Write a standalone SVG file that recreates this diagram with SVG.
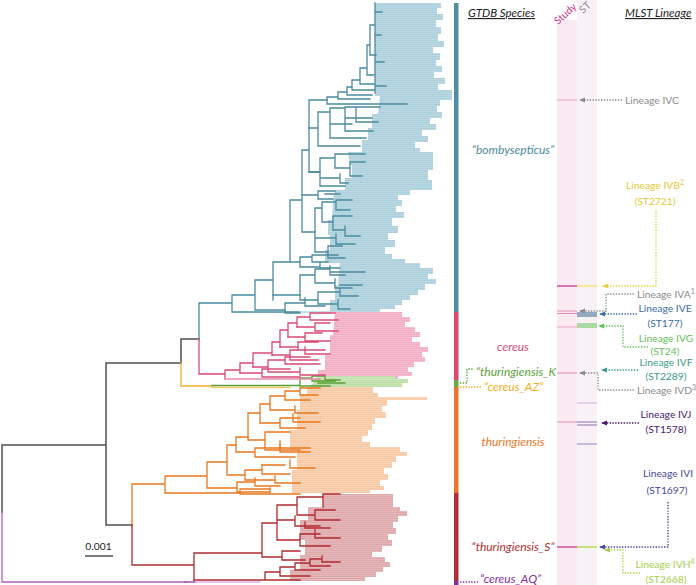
<svg xmlns="http://www.w3.org/2000/svg" xmlns:xlink="http://www.w3.org/1999/xlink" width="696" height="585" viewBox="0 0 696 585">
<style>
.br{fill:none;stroke-width:1.3;stroke-linecap:square}
.bb{stroke:#4a8aa0}.bp{stroke:#d94a75}.bg{stroke:#5a9e3a}.bo{stroke:#e8781e}.brd{stroke:#b02a30}.bk{stroke:#505050;stroke-width:1.5}
.lab{font-family:Lato,"Open Sans","DejaVu Sans",sans-serif;font-size:10.3px}
.sp{font-family:Lato,"Open Sans","DejaVu Sans",sans-serif;font-size:12px;font-style:italic}
.hd{font-family:Lato,"Open Sans","DejaVu Sans",sans-serif;font-size:11.5px;font-style:italic;text-decoration:underline;fill:#222}
.dl{fill:none;stroke-width:1.3;stroke-dasharray:1.4 1.4}
</style>
<defs>
<pattern id="stripe" width="4" height="2" patternUnits="userSpaceOnUse"><rect x="0" y="1.3" width="4" height="0.5" fill="#fff" fill-opacity="0.4"/></pattern>
<path id="fb1" d="M375,3 H441 V8 H437 V14 H443 V20 H436 V27 H441 V34 H438 V41 H444 V47 H433 V53 H440 V60 H436 V66 H442 V72 H434 V78 H445 V84 H438 V90 H452 V96 H375 Z"/>
<path id="fb2" d="M380,96 H452 V100 H440 V106 H437 V112 H442 V118 H430 V124 H436 V130 H422 V136 H428 V142 H415 V148 H420 V152 H362 V140 H368 V128 H372 V114 H378 Z"/>
<path id="fb3" d="M348,152 H433 V170 H428 V180 H432 V190 H345 V178 H352 V165 H350 Z"/>
<path id="fb4" d="M335,190 H410 V195 H398 V200 H333 Z"/>
<path id="fb5" d="M333,200 H402 V206 H396 V212 H404 V218 H392 V226 H398 V233 H388 V240 H395 V247 H385 V254 H392 V259 H405 V263 H325 V250 H330 V235 H328 V220 H332 Z"/>
<path id="fb6" d="M340,263 H420 V268 H433 V274 H428 V279 H436 V284 H425 V290 H418 V295 H410 V300 H402 V305 H395 V309 H380 V312 H330 V300 H335 V285 H338 Z"/>
<path id="fp" d="M335,312 H402 V317 H410 V322 H405 V327 H415 V332 H420 V337 H412 V342 H420 V347 H428 V352 H422 V357 H425 V362 H414 V367 H408 V372 H412 V376 H398 V380 H318 V370 H325 V355 H330 V335 H333 Z"/>
<path id="fg" d="M318,376 H395 V379 H408 V383 H402 V387 H310 Z"/>
<path id="fo" d="M307,387 H373 V393 H378 V397 H427 V400 H387 V406 H382 V412 H386 V418 H375 V424 H372 V430 H368 V436 H362 V442 H370 V447 H400 V452 H407 V456 H396 V462 H392 V468 H384 V474 H388 V480 H380 V486 H384 V490 H370 V493 H292 V470 H297 V450 H290 V430 H297 V410 H300 V395 H307 Z"/>
<path id="fr" d="M323,494 H393 V507 H400 V511 H407 V516 H398 V522 H393 V528 H396 V534 H388 V540 H392 V546 H382 V552 H372 V557 H385 V562 H390 V567 H383 V572 H376 V577 H365 V581 H290 V570 H300 V555 H305 V540 H300 V520 H308 V507 H323 Z"/>
<marker id="ag" viewBox="0 0 6 6" refX="5" refY="3" markerWidth="6" markerHeight="6" markerUnits="userSpaceOnUse" orient="auto"><path d="M0,0.5 L6,3 L0,5.5 Z" fill="#8c8c8c"/></marker>
<marker id="ay" viewBox="0 0 6 6" refX="5" refY="3" markerWidth="6" markerHeight="6" markerUnits="userSpaceOnUse" orient="auto"><path d="M0,0.5 L6,3 L0,5.5 Z" fill="#e8cf3a"/></marker>
<marker id="ab" viewBox="0 0 6 6" refX="5" refY="3" markerWidth="6" markerHeight="6" markerUnits="userSpaceOnUse" orient="auto"><path d="M0,0.5 L6,3 L0,5.5 Z" fill="#3d6ea8"/></marker>
<marker id="agr" viewBox="0 0 6 6" refX="5" refY="3" markerWidth="6" markerHeight="6" markerUnits="userSpaceOnUse" orient="auto"><path d="M0,0.5 L6,3 L0,5.5 Z" fill="#66c05a"/></marker>
<marker id="at" viewBox="0 0 6 6" refX="5" refY="3" markerWidth="6" markerHeight="6" markerUnits="userSpaceOnUse" orient="auto"><path d="M0,0.5 L6,3 L0,5.5 Z" fill="#3a9a8c"/></marker>
<marker id="ap" viewBox="0 0 6 6" refX="5" refY="3" markerWidth="6" markerHeight="6" markerUnits="userSpaceOnUse" orient="auto"><path d="M0,0.5 L6,3 L0,5.5 Z" fill="#4a1a6e"/></marker>
<marker id="as" viewBox="0 0 6 6" refX="5" refY="3" markerWidth="6" markerHeight="6" markerUnits="userSpaceOnUse" orient="auto"><path d="M0,0.5 L6,3 L0,5.5 Z" fill="#4a4a9e"/></marker>
<marker id="ayg" viewBox="0 0 6 6" refX="5" refY="3" markerWidth="6" markerHeight="6" markerUnits="userSpaceOnUse" orient="auto"><path d="M0,0.5 L6,3 L0,5.5 Z" fill="#a6d04a"/></marker>
</defs>
<rect width="696" height="585" fill="#fff"/>

<!-- leaf fans -->
<g id="fans">
<use href="#fb1" fill="#abd0dc"/><use href="#fb2" fill="#abd0dc"/><use href="#fb3" fill="#abd0dc"/><use href="#fb4" fill="#abd0dc"/><use href="#fb5" fill="#abd0dc"/><use href="#fb6" fill="#abd0dc"/>
<use href="#fp" fill="#f3adc3"/><use href="#fg" fill="#bcdda4"/><use href="#fo" fill="#f7c8a4"/><use href="#fr" fill="#dea8ab"/>
<use href="#fb1" fill="url(#stripe)"/><use href="#fb2" fill="url(#stripe)"/><use href="#fb3" fill="url(#stripe)"/><use href="#fb4" fill="url(#stripe)"/><use href="#fb5" fill="url(#stripe)"/><use href="#fb6" fill="url(#stripe)"/>
<use href="#fp" fill="url(#stripe)"/><use href="#fg" fill="url(#stripe)"/><use href="#fo" fill="url(#stripe)"/><use href="#fr" fill="url(#stripe)"/>
</g>

<!-- tree branches -->
<g id="tree">
<path class="br bk" d="M2,445 V512 M2,445 H106 M106,363 V525 M106,363 H181 M106,525 H132 M181,339 V363 M181,339 H199"/>
<path class="br" stroke="#b060c0" stroke-width="1.5" d="M2,512 V582 H185"/>
<path class="br" stroke="#9a2a9a" stroke-width="2.5" d="M185,582 H195"/>
<path class="br" stroke="#dab4e4" stroke-width="2" d="M196,582 H260"/>
<path class="br" stroke="#f0b030" stroke-width="1.5" d="M181,363 V386 H212"/>
<path class="br" stroke="#f3c860" stroke-width="1.5" d="M212,387.5 H290"/>
<path class="br bg" stroke-width="1.6" d="M212,385.5 H300 M300,378 V386 M300,386 H330 M300,378 H312 M312,376 V381 H335 M312,376 H325 M325,376 V380 H340 M318,383 H345"/>

<path class="br bb" d="M199,303 V339 M199,303 H232 M232,295 V312 M232,312 H300 M232,295 H255 M255,280 V310 M255,310 H285 M255,280 H273 M273,262 V295 M273,295 H300 M273,262 H290 M290,200 V262 M290,262 H300 M290,200 H302 M302,150 V232 M302,232 H315 M302,150 H309 M309,100 V172 M309,172 H320 M309,100 H327"/>
<path class="br" stroke="#a9cfdb" d="M300,312 H330"/>
<path class="br bb" d="M327,97 V104 M327,104 H407 M327,97 H338 M338,92 V99 M338,99 H370 M338,92 H347 M347,87 V95 M347,95 H372 M347,87 H352 M352,80 V90 M352,90 H374 M352,80 H360 M360,68 V84 M360,84 H375 M360,68 H367 M367,45 V75 M367,75 H375 M367,45 H370 M370,25 V55 M370,55 H376 M370,25 H375 M375,3 V93 M375,12 H382 M375,35 H381 M375,62 H384 M375,86 H386"/>
<path class="br bb" d="M309,128 H318 M318,112 V146 M318,146 H360 M318,112 H330 M330,108 V138 M330,138 H366 M330,108 H345 M345,107 V131 M345,131 H373 M345,107 H356 M356,107 V122 M356,122 H378 M356,107 H380 M330,124 H352 M345,118 H372"/>
<path class="br bb" d="M309,172 H320 M320,158 V186 M320,186 H345 M320,158 H335 M335,154 V168 M335,154 H365 M335,168 H350 M350,162 V176 M350,162 H365 M350,176 H362 M320,178 H340 M340,174 V183 H348 M302,195 H318 M318,191 V199 M318,191 H335 M318,199 H333 M325,194 H340"/>
<path class="br bb" d="M315,208 V252 M315,252 H328 M328,246 V258 M328,246 H342 M328,258 H345 M315,208 H322 M322,202 V222 M322,202 H336 M336,200 V210 M336,200 H352 M336,210 H350 M322,222 H333 M333,216 V230 M333,216 H352 M333,230 H345 M345,226 V236 H360 M315,238 H336 M336,234 V244 H355"/>
<path class="br bb" d="M300,257 V267 M300,257 H312 M312,255 V262 H328 M300,267 H320 M320,262 V268 H340 M312,255 H338"/>
<path class="br bb" d="M300,275 V300 M300,275 H315 M315,269 V283 M315,269 H330 M330,266 V275 H345 M315,283 H335 M335,279 V288 H352 M300,300 H318 M318,292 V304 M318,292 H340 M340,288 V296 H358 M318,304 H338 M338,300 V309 H350 M330,272 H365 M340,285 H362 M285,303 V313 H300 M285,303 H305 M305,298 V306 H325 M273,295 V300"/>

<path class="br bp" d="M199,339 V374 M199,374 H225 M225,370 V379 M225,370 H240 M240,363 V373 M240,363 H253 M253,353 V367 M253,353 H272 M272,342 V355 M272,342 H280 M280,330 V347 M280,330 H288 M288,323 V337 M288,323 H297 M297,317 V327 M297,317 H310 M310,313 V320 M310,313 H335 M310,320 H338"/>
<path class="br" stroke="#e88aa8" d="M225,379 H320"/>
<path class="br bp" d="M240,373 H262 M262,369 V377 H300 M262,369 H290 M253,367 H268 M268,360 V372 M268,360 H285 M285,357 V364 H320 M268,372 H300 M300,368 V375 H325 M285,357 H310 M272,355 H290 M290,350 V360 H318 M290,350 H312 M305,347 V354 H330 M280,347 H298 M298,342 V350 H325 M298,342 H318 M288,337 H305 M305,333 V341 H330 M305,333 H322 M297,327 H315 M315,323 V331 H338 M315,323 H330"/>

<path class="br bo" d="M132,484 V525 M132,484 H165 M165,476 V493 M165,493 H240 M240,489 V494 M240,489 H270 M240,494 H280 M165,476 H207 M207,462 V488 M207,488 H237 M237,482 V492 M237,482 H255 M255,478 V486 H280 M237,492 H270 M270,488 V494 H300 M207,462 H227 M227,445 V475 M227,475 H245 M245,470 V480 M245,470 H262 M262,465 V474 H290 M245,480 H275 M275,476 V483 H300 M227,445 H236 M236,437 V452 M236,452 H255 M255,448 V457 H295 M255,448 H280 M280,445 V452 H310 M236,437 H248"/>
<path class="br bo" d="M248,413 V440 M248,440 H265 M265,432 V450 M265,432 H290 M265,450 H300 M280,441 V448 H310 M248,413 H260 M260,404 V423 M260,423 H280 M280,418 V428 H305 M280,418 H300 M293,414 V422 H320 M260,404 H270 M270,396 V410 M270,410 H295 M295,406 V413 H318 M270,396 H285 M285,391 V400 M285,400 H310 M285,391 H300 M300,388 V395 H318 M300,388 H320 M262,465 H285 M290,460 V468 H315"/>

<path class="br brd" d="M132,525 V565 M132,565 H194 M194,553 V580 M194,553 H262 M262,523 V557 M262,557 H282 M282,551 V560 H305 M282,551 H300 M262,523 H277 M277,505 V540 M277,540 H300 M300,534 V546 H330 M300,534 H320 M315,530 V538 H340 M300,546 H325 M277,505 H297 M297,497 V515 M297,515 H315 M315,510 V520 H340 M315,510 H335 M297,497 H323 M323,494 V507 M323,494 H340 M277,520 H295 M295,516 V526 H320 M305,522 V528 H330"/>
<path class="br brd" d="M194,580 H265 M265,572 V580 M265,580 H300 M265,572 H280 M280,567 V576 H310 M280,567 H295 M295,563 V570 H320 M295,563 H310 M310,559 V566 H330 M310,559 H322 M322,556 V562 H340"/>
</g>

<!-- scale bar -->
<g id="scale">
<text x="98.5" y="550" class="lab" text-anchor="middle" font-size="11.5" fill="#222">0.001</text>
<line x1="85" y1="556" x2="113" y2="556" stroke="#222" stroke-width="1.2"/>
</g>

<!-- species bar -->
<g id="species-bar">
<rect x="454" y="3" width="4.5" height="309" fill="#4e8ea2"/>
<rect x="454" y="312" width="4.5" height="68" fill="#d94a75"/>
<rect x="454" y="380" width="4.5" height="7" fill="#6aaa40"/>
<rect x="454" y="387" width="4.5" height="106" fill="#e8782a"/>
<rect x="454" y="493" width="4.5" height="88" fill="#b0303a"/>
<rect x="454" y="581" width="4.5" height="4" fill="#8030a0"/>
</g>

<g id="species-labels">
<text x="468" y="17" class="hd">GTDB Species</text>
<text x="513" y="154" class="sp" text-anchor="middle" fill="#4a8aa0">“bombysepticus”</text>
<text x="513" y="351" class="sp" text-anchor="middle" fill="#d94a75">cereus</text>
<text x="476" y="376" class="sp" font-size="11.5" fill="#5aa03a">“thuringiensis_K”</text>
<text x="484" y="390.5" class="sp" font-size="11.5" fill="#f0b020">“cereus_AZ”</text>
<text x="513" y="446" class="sp" text-anchor="middle" fill="#e8782a">thuringiensis</text>
<text x="513" y="551" class="sp" text-anchor="middle" fill="#b03030">“thuringiensis_S”</text>
<text x="480" y="583" class="sp" fill="#8a30a0">“cereus_AQ”</text>
<path class="dl" stroke="#5aa03a" d="M460,383 H467 V369 H474"/>
<path class="dl" stroke="#f0b020" d="M460,387 H482"/>
<path class="dl" stroke="#8a30a0" d="M460,582 H478"/>
</g>

<!-- Study / ST columns -->
<g id="columns">
<rect x="557" y="20" width="20" height="565" fill="#fbeaf2"/>
<rect x="577" y="0" width="20" height="585" fill="#f8f1f6"/>
<text transform="translate(558,25) rotate(-42)" class="lab" font-size="10.5" fill="#d6338a">Study</text>
<text transform="translate(583,14) rotate(-42)" class="lab" font-size="10.5" fill="#8c8c8c">ST</text>
<g stroke-width="1">
<line x1="557" y1="100" x2="577" y2="100" stroke="#eba2c8"/>
<line x1="557" y1="286" x2="577" y2="286" stroke="#d678b4" stroke-width="2"/>
<line x1="577" y1="286" x2="597" y2="286" stroke="#f5ea98" stroke-width="2"/>
<line x1="557" y1="311" x2="577" y2="311" stroke="#e08ab8"/>
<line x1="557" y1="313.5" x2="577" y2="313.5" stroke="#e08ab8"/>
<rect x="577" y="312" width="20" height="5" fill="#94aac2"/>
<rect x="577" y="323" width="20" height="5" fill="#acdaa6"/>
<line x1="557" y1="327" x2="577" y2="327" stroke="#eba2c8"/>
<line x1="557" y1="373" x2="577" y2="373" stroke="#e08ab8"/>
<line x1="577" y1="403" x2="597" y2="403" stroke="#c8b2dc"/>
<line x1="557" y1="422" x2="577" y2="422" stroke="#e08ab8"/>
<line x1="577" y1="422" x2="597" y2="422" stroke="#8a70b0"/>
<line x1="577" y1="425" x2="597" y2="425" stroke="#8a70b0"/>
<line x1="577" y1="444" x2="597" y2="444" stroke="#9a84c0"/>
<line x1="557" y1="547" x2="577" y2="547" stroke="#d678b4" stroke-width="2"/>
<line x1="577" y1="547" x2="597" y2="547" stroke="#c8e080" stroke-width="2"/>
</g>
</g>

<!-- MLST lineage connectors -->
<g id="connectors">
<path class="dl" stroke="#8c8c8c" marker-end="url(#ag)" d="M622,100 H580"/>
<path class="dl" stroke="#e8cf3a" marker-end="url(#ay)" d="M656,210 V286 H603"/>
<path class="dl" stroke="#8c8c8c" marker-end="url(#ag)" d="M634,294 H606 V311 H580"/>
<path class="dl" stroke="#3d6ea8" marker-end="url(#ab)" d="M637,314 H600"/>
<path class="dl" stroke="#66c05a" marker-end="url(#agr)" d="M648,347 H623 V326 H599"/>
<path class="dl" stroke="#3a9a8c" marker-end="url(#at)" d="M638,370 H602"/>
<path class="dl" stroke="#8c8c8c" marker-end="url(#ag)" d="M634,390 H598 V373 H580"/>
<path class="dl" stroke="#4a1a6e" marker-end="url(#ap)" d="M639,423 H602"/>
<path class="dl" stroke="#4a4a9e" marker-end="url(#as)" d="M668,502 V547 H600"/>
<path class="dl" stroke="#a6d04a" marker-end="url(#ayg)" d="M640,573 H623 V550 H605"/>
</g>

<g id="lineage-labels">
<text x="625" y="17" class="hd">MLST Lineage</text>
<text x="625" y="104" class="lab" fill="#8c8c8c">Lineage IVC</text>
<text x="655" y="189" class="lab" text-anchor="middle" fill="#e6c832">Lineage IVB<tspan dy="-4" font-size="7">2</tspan></text>
<text x="655" y="205" class="lab" text-anchor="middle" fill="#e6c832">(ST2721)</text>
<text x="637" y="298" class="lab" fill="#8c8c8c">Lineage IVA<tspan dy="-4" font-size="7">1</tspan></text>
<text x="665" y="312" class="lab" text-anchor="middle" fill="#3d6ea8">Lineage IVE</text>
<text x="665" y="327" class="lab" text-anchor="middle" fill="#3d6ea8">(ST177)</text>
<text x="666" y="341.5" class="lab" text-anchor="middle" fill="#66c05a">Lineage IVG</text>
<text x="665" y="355" class="lab" text-anchor="middle" fill="#66c05a">(ST24)</text>
<text x="666" y="366" class="lab" text-anchor="middle" fill="#3a9a8c">Lineage IVF</text>
<text x="666" y="380" class="lab" text-anchor="middle" fill="#3a9a8c">(ST2289)</text>
<text x="637" y="394" class="lab" fill="#8c8c8c">Lineage IVD<tspan dy="-4" font-size="7">3</tspan></text>
<text x="666" y="418" class="lab" text-anchor="middle" fill="#4a1a6e">Lineage IVJ</text>
<text x="666" y="433" class="lab" text-anchor="middle" fill="#4a1a6e">(ST1578)</text>
<text x="668" y="477" class="lab" text-anchor="middle" fill="#4a4a9e">Lineage IVI</text>
<text x="667" y="494" class="lab" text-anchor="middle" fill="#4a4a9e">(ST1697)</text>
<text x="665" y="568" class="lab" text-anchor="middle" fill="#a6d04a">Lineage IVH<tspan dy="-4" font-size="7">4</tspan></text>
<text x="666" y="583" class="lab" text-anchor="middle" fill="#a6d04a">(ST2668)</text>
</g>
</svg>
